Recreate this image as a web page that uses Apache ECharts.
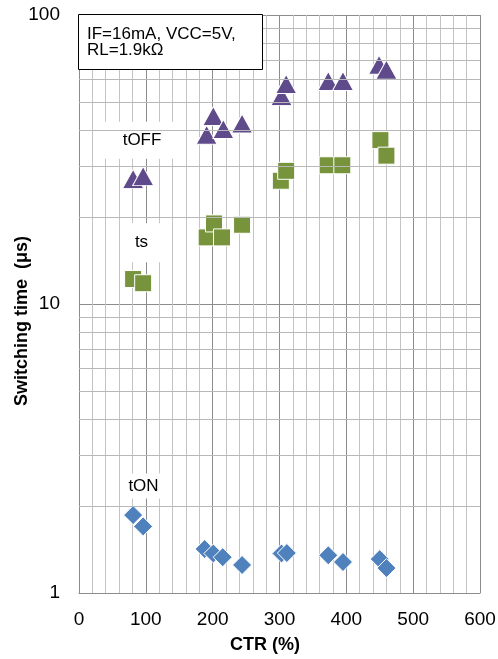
<!DOCTYPE html>
<html>
<head>
<meta charset="utf-8">
<script src="https://cdn.jsdelivr.net/npm/echarts@6/dist/echarts.min.js"></script>
<style>html,body{margin:0;padding:0;background:#fff}#c{width:498px;height:659px}</style>
</head>
<body>
<div id="c"></div>
<script>
// ---- data ----
const tOffX = [81, 96, 191, 201, 216, 244, 303, 310, 373, 395, 449, 460];
const tOffY = [27.1, 27.7, 38.5, 44.7, 40.3, 42.1, 52.5, 57.7, 59.1, 59.1, 67.3, 64.7];
const tsX = [81, 96, 191, 202, 214, 244, 302, 310, 372, 394, 451, 460];
const tsY = [12.2, 11.8, 17.0, 19.0, 17.0, 18.8, 26.7, 28.9, 30.2, 30.2, 36.9, 32.6];
const tOnX = [81, 96, 188, 201, 215, 244, 303, 311, 373, 395, 450, 460];
const tOnY = [1.86, 1.70, 1.42, 1.37, 1.33, 1.25, 1.37, 1.375, 1.35, 1.28, 1.31, 1.22];
const seriesLabels = ['tOFF', 'ts', 'tON'];
const labelX = [94.3, 93.5, 96.5];
const labelY = [36.9, 16.3, 2.345];
const yMinorLines = [2, 3, 4, 5, 6, 7, 8, 9, 20, 30, 40, 50, 60, 70, 80, 90];
const conditionText = 'IF=16mA, VCC=5V,\nRL=1.9kΩ';
const xTitle = 'CTR (%)';
const yTitle = 'Switching time  (μs)';

const FONT = 'Liberation Sans, Arial, sans-serif';
const zip = (xs, ys) => xs.map((x, i) => [x, ys[i]]);

const chart = echarts.init(document.getElementById('c'), null, {renderer: 'canvas'});
chart.setOption({
  animation: false,
  backgroundColor: '#fff',
  grid: {left: 79, right: 18, top: 15, bottom: 66, containLabel: false, outerBoundsMode: 'none'},
  xAxis: {
    type: 'value', min: 0, max: 600, interval: 100,
    name: xTitle, nameLocation: 'middle', nameGap: 43, nameMoveOverlap: false,
    nameTextStyle: {fontFamily: FONT, fontSize: 18, fontWeight: 'bold', color: '#000', padding: [0, 29, 0, 0]},
    axisLine: {show: true, lineStyle: {color: '#8c8c8c', width: 1}},
    axisTick: {show: false},
    axisLabel: {fontFamily: FONT, fontSize: 19, color: '#000', margin: 17},
    splitLine: {show: true, lineStyle: {color: '#8c8c8c', width: 1}},
    minorTick: {show: false, splitNumber: 5},
    minorSplitLine: {show: true, lineStyle: {color: '#c4c4c4', width: 1}}
  },
  yAxis: {
    type: 'log', logBase: 10, min: 1, max: 100,
    name: yTitle, nameLocation: 'middle', nameGap: 48, nameMoveOverlap: false,
    nameTextStyle: {fontFamily: FONT, fontSize: 18, fontWeight: 'bold', color: '#000', padding: [0, 34, 0, 0]},
    nameRotate: 90,
    axisLine: {show: true, lineStyle: {color: '#8c8c8c', width: 1}},
    axisTick: {show: false},
    axisLabel: {fontFamily: FONT, fontSize: 19, color: '#000', margin: 19},
    splitLine: {show: true, lineStyle: {color: '#8c8c8c', width: 1}}
  },
  series: [
    {
      type: 'line', data: [], z: 1, silent: true,
      markLine: {
        silent: true, symbol: ['none', 'none'], animation: false,
        label: {show: false},
        lineStyle: {color: '#b8b8b8', width: 1, type: 'solid'},
        emphasis: {disabled: true},
        data: yMinorLines.map(v => ({yAxis: v}))
      }
    },
    {
      name: 'tOFF', type: 'scatter', symbol: 'triangle', symbolSize: [21, 19], z: 3,
      itemStyle: {color: '#5F4B8B', borderColor: '#fff', borderWidth: 1, opacity: 1},
      data: zip(tOffX, tOffY)
    },
    {
      name: 'ts', type: 'scatter', symbol: 'rect', symbolSize: 17, z: 3,
      itemStyle: {color: '#77933C', borderColor: '#fff', borderWidth: 1, opacity: 1},
      data: zip(tsX, tsY)
    },
    {
      name: 'tON', type: 'scatter', symbol: 'diamond', symbolSize: 19, z: 3,
      itemStyle: {color: '#4F81BD', borderColor: '#fff', borderWidth: 1, opacity: 1},
      data: zip(tOnX, tOnY)
    },
    {
      type: 'scatter', z: 4, silent: true, symbolSize: 1,
      itemStyle: {color: 'rgba(0,0,0,0)', opacity: 1},
      label: {
        show: true, position: 'inside', fontFamily: FONT, fontSize: 17, color: '#000',
        backgroundColor: '#fff', opacity: 1,
        formatter: p => seriesLabels[p.dataIndex]
      },
      data: seriesLabels.map((s, i) => ({
        value: [labelX[i], labelY[i]],
        label: {padding: i === 0 ? [10, 24] : (i === 1 ? [11, 12] : [4, 7])}
      }))
    }
  ],
  graphic: [
    {type: 'rect', z: 100, shape: {x: 78.5, y: 14.5, width: 184, height: 55},
     style: {fill: '#fff', stroke: '#000', lineWidth: 1}},
    {type: 'text', z: 101, style: {text: conditionText, x: 87, y: 42, font: '17px ' + FONT,
      lineHeight: 16, fill: '#000', verticalAlign: 'middle', align: 'left'}}
  ]
});
</script>
</body>
</html>
